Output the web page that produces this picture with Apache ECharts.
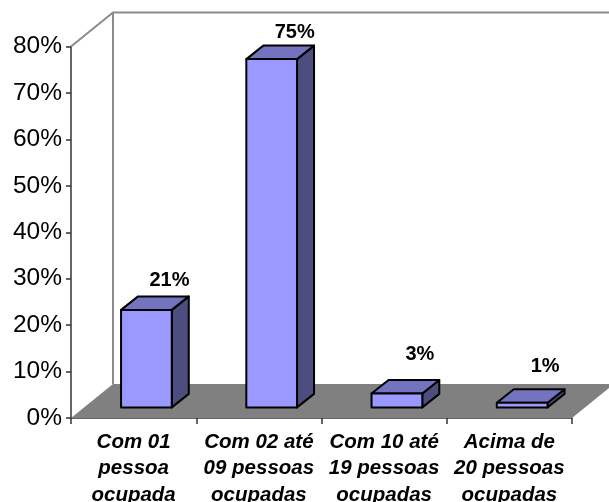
<!DOCTYPE html>
<html><head><meta charset="utf-8">
<style>html,body{margin:0;padding:0;background:#fff}#c{width:609px;height:502px}</style>
<script src="https://cdn.jsdelivr.net/npm/echarts@6/dist/echarts.min.js"></script>
</head><body><div id="c"></div>
<script>
const categories = ['Com 01\npessoa\nocupada','Com 02 até\n09 pessoas\nocupadas','Com 10 até\n19 pessoas\nocupadas','Acima de\n20 pessoas\nocupadas'];
const values = [21, 75, 3, 1];
const yTicks = {min:0, max:80, interval:10};

const chart = echarts.init(document.getElementById('c'), null, {renderer:'canvas'});
const DX = 42, DY = 34;           // full depth of the 3D box
const LINE = {stroke:'#000', lineWidth:2, lineJoin:'round'};

function poly(points, fill, extra){
  return {type:'polygon', shape:{points}, style:Object.assign({fill}, extra||LINE)};
}
function frame(params, api){
  const a = api.coord([0, yTicks.min]);
  const bw = api.size([1,0])[0];
  const x0 = a[0] - bw/2, x1 = a[0] + bw*3.5;
  const y0 = a[1], yT = api.coord([0, yTicks.max])[1];
  const gray = {stroke:'#8c8c8c', lineWidth:2, fill:'none'};
  return {type:'group', children:[
    poly([[x0,y0],[x1,y0],[x1+DX,y0-DY],[x0+DX,y0-DY]], '#808080', {stroke:'none'}),
    {type:'polyline', shape:{points:[[x0,yT],[x0+DX,yT-DY],[x1+DX,yT-DY]]}, style:gray},
    {type:'line', shape:{x1:x0+DX,y1:yT-DY,x2:x0+DX,y2:y0-DY}, style:gray},
    {type:'line', shape:{x1:x1+DX,y1:yT-DY,x2:x1+DX,y2:y0-DY}, style:gray}
  ]};
}
function bar3d(params, api){
  const i = api.value(0), v = api.value(1);
  const c0 = api.coord([i, 0]), c1 = api.coord([i, v]);
  const bw = api.size([1,0])[0];
  const w = bw*0.405, ox = 12.8, oy = 10.6, dx = 17, dy = 13.5;
  const xl = c0[0] + ox - w/2, xr = xl + w;
  const yb = c0[1] - oy, yt = c1[1] - oy;
  const lift = [16, 13, 25, 23][i];
  return {type:'group', children:[
    poly([[xr,yb],[xr+dx,yb-dy],[xr+dx,yt-dy],[xr,yt]], '#4d4d80'),
    poly([[xl,yt],[xl+dx,yt-dy],[xr+dx,yt-dy],[xr,yt]], '#7373bf'),
    poly([[xl,yb],[xr,yb],[xr,yt],[xl,yt]], '#9999ff'),
    {type:'text', style:{text:v+'%', x:(xl+xr)/2+23, y:yt-dy-lift, align:'center', verticalAlign:'middle',
      fill:'#000', font:'bold 20px "Liberation Sans"'}}
  ]};
}
chart.setOption({
  animation:false,
  backgroundColor:'#fff',
  grid:{left:71, right:37, top:46.5, bottom:84, outerBoundsMode:'none'},
  xAxis:{type:'category', data:categories,
    axisLine:{lineStyle:{color:'#333', width:1.5}},
    axisTick:{show:true, alignWithLabel:false, length:6, lineStyle:{color:'#333', width:1.5}},
    axisLabel:{interval:0, margin:11, lineHeight:26.5, color:'#000', fontFamily:'Liberation Sans', fontStyle:'italic', fontWeight:'bold', fontSize:20.5}},
  yAxis:{type:'value', min:yTicks.min, max:yTicks.max, interval:yTicks.interval,
    splitLine:{show:false},
    axisLine:{show:true, lineStyle:{color:'#333', width:1.5}},
    axisTick:{show:true, length:5, lineStyle:{color:'#333', width:1.5}},
    axisLabel:{formatter:'{value}%', margin:9, color:'#000', fontFamily:'Liberation Sans', fontSize:24.5}},
  series:[
    {type:'custom', z:1, clip:false, silent:true, renderItem:frame, data:[[0,0]], encode:{x:0,y:1}},
    {type:'custom', z:3, clip:false, silent:true, renderItem:bar3d, data:values.map((v,i)=>[i,v]), encode:{x:0,y:1}}
  ]
});
</script></body></html>
